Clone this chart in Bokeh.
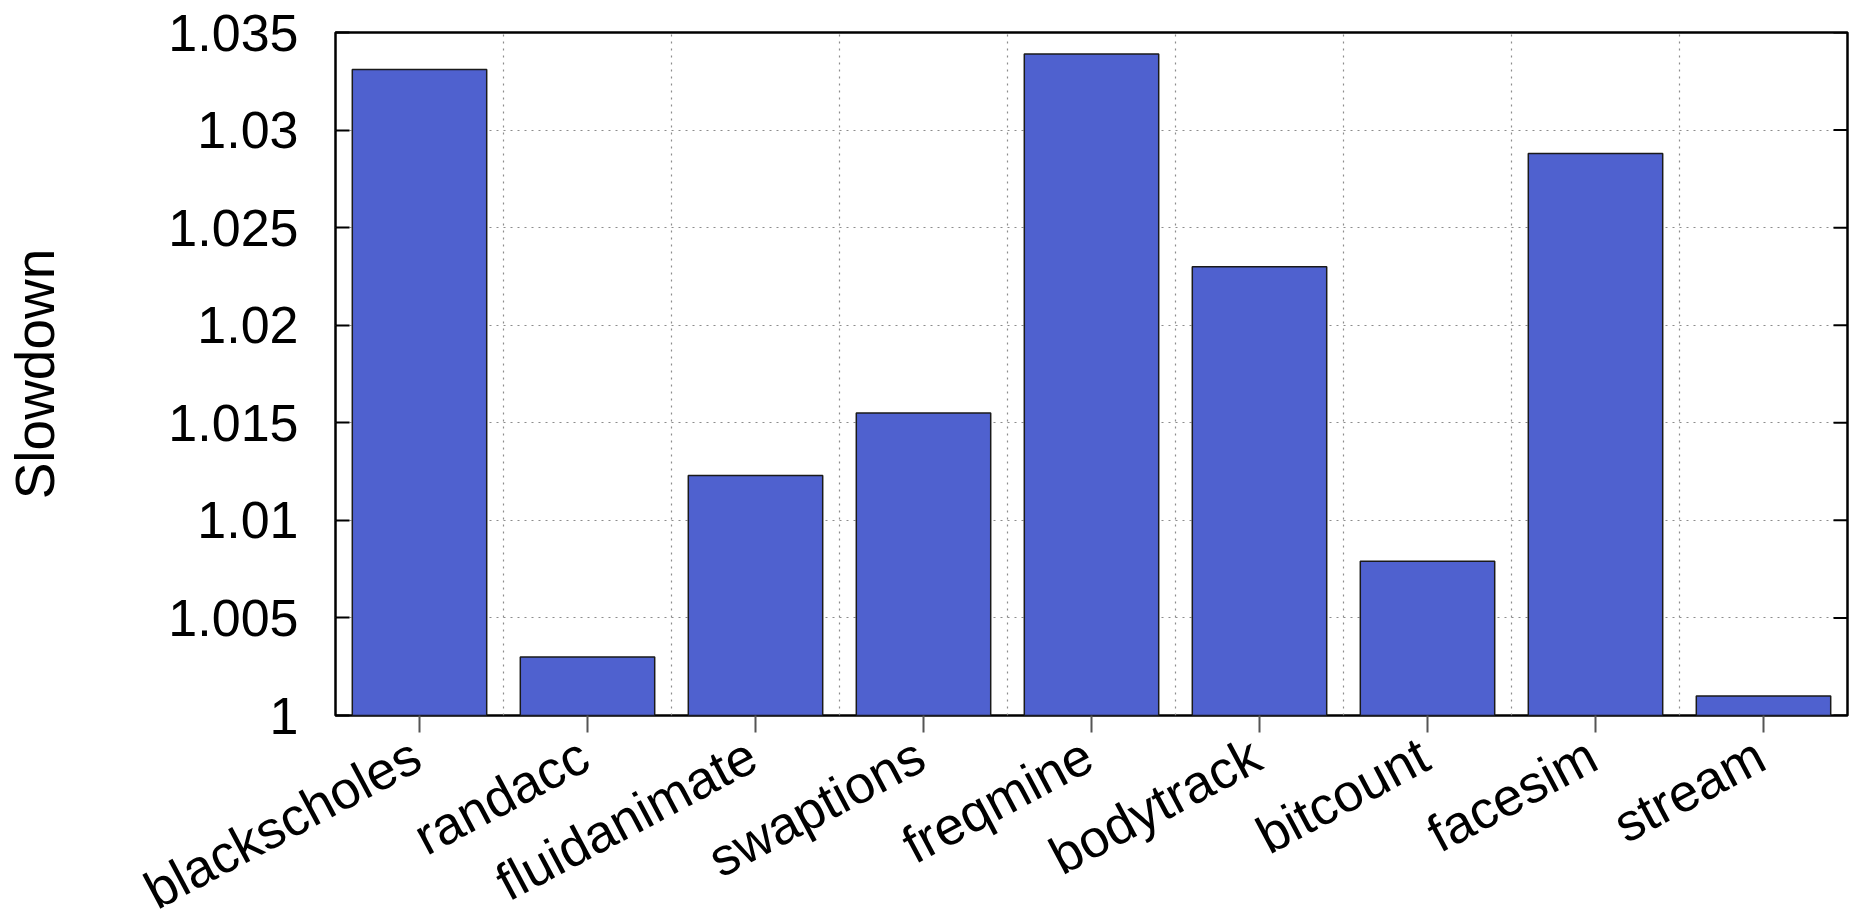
import math
from bokeh.plotting import figure
from bokeh.models import FixedTicker, Range1d
from bokeh.core.properties import value
from bokeh.embed import file_html
from bokeh.resources import INLINE

benchmarks = ["blackscholes", "randacc", "fluidanimate", "swaptions", "freqmine",
              "bodytrack", "bitcount", "facesim", "stream"]
slowdown = [1.0331, 1.0030, 1.0123, 1.0155, 1.0339, 1.0230, 1.0079, 1.0288, 1.0010]
y_ticks = [1.0, 1.005, 1.01, 1.015, 1.02, 1.025, 1.03, 1.035]
y_tick_labels = ["1", "1.005", "1.01", "1.015", "1.02", "1.025", "1.03", "1.035"]

FONT = "Liberation Sans"
W = 1850
LEFT, RIGHT, TOP = 335, 3, 32
FRAME_H = 683
TICK_BAND = 40
P_H = TOP + FRAME_H + TICK_BAND
OVERLAP = 60                      # label strip slides up under the plot's bottom band
STRIP_TOP = P_H - OVERLAP
LABEL_H = 913 - STRIP_TOP
LABEL_ANCHOR = 751 - STRIP_TOP    # baseline end of each category label, from strip top
LABEL_ANGLE = math.radians(28)

n = len(benchmarks)
xs = [i + 0.5 for i in range(n)]
bounds = [float(i) for i in range(1, n)]

p = figure(width=W, height=P_H,
           x_range=Range1d(0, n), y_range=Range1d(1.0, 1.035),
           output_backend="svg", toolbar_location=None,
           min_border_top=TOP, min_border_right=RIGHT, min_border_left=LEFT,
           min_border_bottom=TICK_BAND)
p.outline_line_color = "black"
p.outline_line_width = 2.5

# grids (behind bars)
p.xgrid.ticker = FixedTicker(ticks=bounds, minor_ticks=[])
p.ygrid.ticker = FixedTicker(ticks=y_ticks, minor_ticks=[])
for g in (p.xgrid, p.ygrid):
    g.grid_line_color = "#8c8c8c"
    g.grid_line_dash = "2 5"
    g.grid_line_width = 1.2

p.vbar(x=xs, top=slowdown, bottom=1.0, width=0.8, fill_color="#4f61cf",
       line_color="#1a1a1a", line_width=1.5)

# mirrored ticks on the right edge of the frame
p.ray(x=[n] * len(y_ticks), y=y_ticks, length=14, length_units="screen",
      angle=math.pi, line_color="black", line_width=2)

# x axis: ticks only (labels drawn in the strip below)
xa = p.xaxis[0]
xa.ticker = FixedTicker(ticks=xs, minor_ticks=[])
xa.major_label_overrides = {x: "" for x in xs}
xa.major_label_text_font_size = "1px"
xa.major_label_standoff = 0
xa.major_tick_out = 17
xa.major_tick_in = 0
xa.major_tick_line_color = "#555555"
xa.major_tick_line_width = 2
xa.axis_line_color = None

# y axis
ya = p.yaxis[0]
ya.ticker = FixedTicker(ticks=y_ticks, minor_ticks=[])
ya.major_label_overrides = {t: l for t, l in zip(y_ticks, y_tick_labels)}
ya.major_label_text_font = FONT
ya.major_label_text_font_size = "52px"
ya.major_label_text_color = "black"
ya.major_tick_out = 0
ya.major_tick_in = 14
ya.major_tick_line_color = "black"
ya.major_tick_line_width = 2
ya.axis_line_color = None
ya.major_label_standoff = 37
ya.axis_label = "Slowdown"
ya.axis_label_text_font = FONT
ya.axis_label_text_font_size = "55px"
ya.axis_label_text_font_style = "normal"
ya.axis_label_text_color = "black"
ya.axis_label_standoff = 99

# transparent strip holding the rotated category labels, same x scale as p
ppu = (W - LEFT - RIGHT) / n
q = figure(width=W, height=LABEL_H,
           x_range=Range1d(-LEFT / ppu, n + RIGHT / ppu), y_range=Range1d(0, LABEL_H),
           output_backend="svg", toolbar_location=None,
           min_border=0, min_border_left=0, min_border_right=0,
           min_border_top=0, min_border_bottom=0,
           styles={"margin-top": f"-{OVERLAP}px"})
q.axis.visible = False
q.grid.visible = False
q.outline_line_color = None
q.background_fill_color = None
q.border_fill_color = None
q.text(x=xs, y=[LABEL_H - LABEL_ANCHOR] * n, text=benchmarks, angle=LABEL_ANGLE,
       text_align="right", text_baseline="alphabetic", x_offset=-3,
       text_font=value(FONT), text_font_size="53px", text_color="black")

open("out.html", "w").write(file_html([p, q], INLINE))
